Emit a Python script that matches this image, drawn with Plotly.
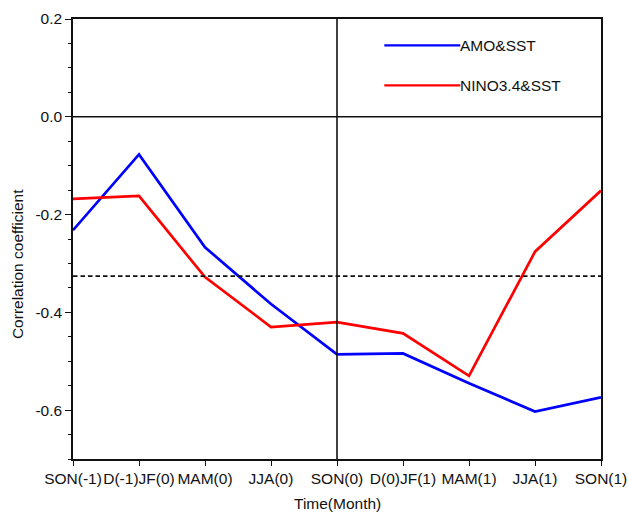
import plotly.graph_objects as go

# Seasons along the time axis
seasons = ["SON(-1)", "D(-1)JF(0)", "MAM(0)", "JJA(0)", "SON(0)",
           "D(0)JF(1)", "MAM(1)", "JJA(1)", "SON(1)"]

# Correlation coefficients for each series
amo_sst = [-0.232, -0.077, -0.267, -0.383, -0.486, -0.484, -0.545, -0.603, -0.574]
nino_sst = [-0.168, -0.162, -0.328, -0.430, -0.420, -0.443, -0.530, -0.276, -0.151]

series_names = ["AMO&SST", "NINO3.4&SST"]
series_colors = ["#0000ff", "#ff0000"]

# Significance threshold (dashed) and y-axis ticks
sig_level = -0.326
y_ticks = [0.2, 0.0, -0.2, -0.4, -0.6]

FONT = "Liberation Sans, Arial, Helvetica, sans-serif"
FS = 15.5
x_pos = list(range(len(seasons)))

fig = go.Figure()
for name, vals, col in zip(series_names, [amo_sst, nino_sst], series_colors):
    fig.add_trace(go.Scatter(x=x_pos, y=vals, mode="lines", name=name,
                             line=dict(color=col, width=2.7),
                             showlegend=False, cliponaxis=False))

# Reference lines: zero line, SON(0) divider, significance threshold
fig.add_hline(y=0, line=dict(color="#111", width=1.6))
fig.add_vline(x=4, line=dict(color="#111", width=1.6))
fig.add_hline(y=sig_level, line=dict(color="#111", width=1.7, dash="4.5px,3px"))

# Hand-drawn legend: line sample followed by label
legend_y = [0.94, 0.849]
for name, col, ly in zip(series_names, series_colors, legend_y):
    fig.add_shape(type="line", xref="paper", yref="paper",
                  x0=0.5896, x1=0.7335, y0=ly, y1=ly,
                  line=dict(color=col, width=2.2))
    fig.add_annotation(xref="paper", yref="paper", x=0.7335, y=ly,
                       text=name, showarrow=False, xanchor="left",
                       yanchor="middle", xshift=-2,
                       font=dict(family=FONT, size=FS, color="#111"))

# Axis titles
fig.add_annotation(xref="paper", yref="paper", x=0, y=0.443,
                   text="Correlation coefficient", textangle=-90,
                   showarrow=False, xanchor="center", yanchor="middle",
                   xshift=-56, font=dict(family=FONT, size=FS, color="#111"))
fig.add_annotation(xref="paper", yref="paper", x=0.5, y=0,
                   text="Time(Month)", showarrow=False,
                   xanchor="center", yanchor="middle", yshift=-44,
                   font=dict(family=FONT, size=FS, color="#111"))

axis_common = dict(showline=True, linecolor="#111", linewidth=1.6,
                   mirror=True, ticks="outside", tickcolor="#111",
                   tickwidth=1.3, showgrid=False, zeroline=False,
                   automargin=False, tickangle=0,
                   tickfont=dict(family=FONT, size=FS, color="#111"))

fig.update_xaxes(range=[0, 8], tickmode="array", tickvals=x_pos,
                 ticktext=seasons, ticklen=5, **axis_common)
fig.update_yaxes(range=[-0.7, 0.2], tickmode="array", tickvals=y_ticks,
                 ticktext=[f"{v:.1f}" for v in y_ticks], ticklen=6,
                 minor=dict(dtick=0.05, tick0=0, ticks="outside", ticklen=3.5,
                            tickcolor="#111", tickwidth=1.1, showgrid=False),
                 **axis_common)

fig.update_layout(width=628, height=514,
                  margin=dict(l=72.7, r=27.3, t=19.3, b=55.3),
                  plot_bgcolor="white", paper_bgcolor="white",
                  font=dict(family=FONT, size=FS, color="#111"))

fig.write_html("out.html")
